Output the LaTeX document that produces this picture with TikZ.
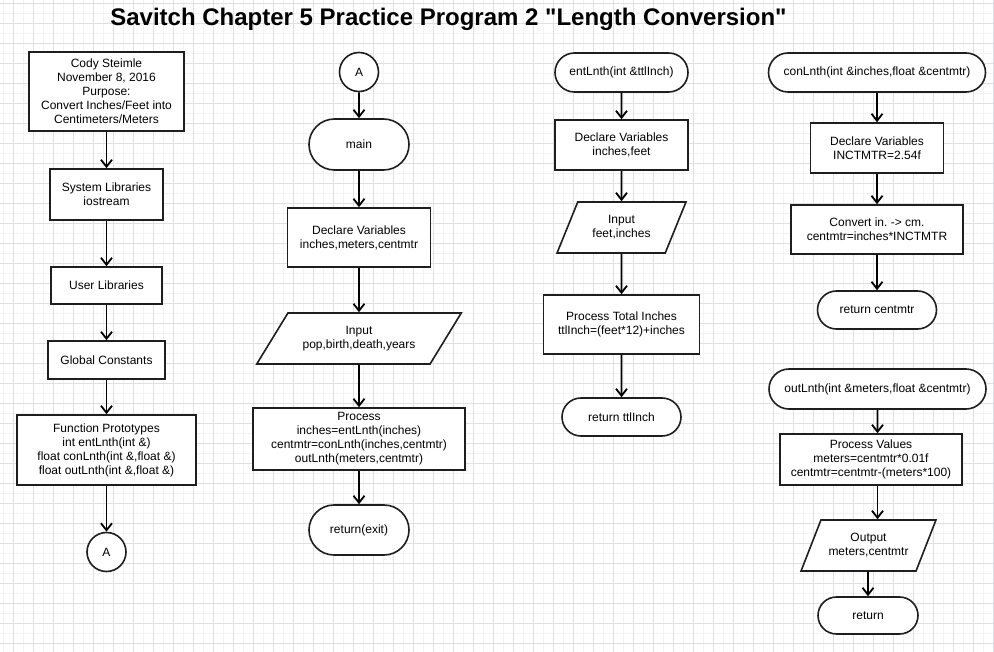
\documentclass[tikz,border=0pt]{standalone}
\usepackage{fontspec}
\setmainfont{Liberation Sans}
\newfontfamily\titlefont{Liberation Sans}
\usepackage{tikz}
\usetikzlibrary{arrows.meta,shapes.geometric,shapes.misc}
\definecolor{gridmaj}{RGB}{222,222,238}
\definecolor{gridmin}{RGB}{242,242,249}
\definecolor{linecol}{RGB}{30,30,30}
\tikzstyle{fc_box} = [rectangle, draw=linecol, fill=white, line width=1.6pt, align=center, inner sep=0pt]
\tikzstyle{fc_term} = [rounded rectangle, draw=linecol, fill=white, line width=1.6pt, align=center, inner sep=0pt]
\tikzstyle{fc_io} = [trapezium, trapezium stretches=true, draw=linecol, fill=white, line width=1.6pt, align=center, inner sep=0pt]
\tikzstyle{fc_con} = [circle, draw=linecol, fill=white, line width=1.6pt, inner sep=0pt, minimum size=39pt]
\tikzstyle{fc_arr} = [-{Straight Barb[length=7pt,width=11pt]}, draw=black, line width=1.8pt]

\begin{document}
\frenchspacing
\begin{tikzpicture}[x=1pt,y=-1pt,font=\fontsize{12}{14}\selectfont]
\useasboundingbox (0,0) rectangle (994,652);
\fill[white] (0,0) rectangle (994,652);
% grid paper
\foreach \x in {3,23,...,983} \draw[gridmin,line width=0.6pt] (\x,0) -- (\x,652);
\foreach \y in {13,33,...,653} \draw[gridmin,line width=0.6pt] (0,\y) -- (994,\y);
\foreach \x in {13,33,...,993} \draw[gridmaj,line width=0.6pt] (\x,0) -- (\x,652);
\foreach \y in {3,23,...,643} \draw[gridmaj,line width=0.6pt] (0,\y) -- (994,\y);

\node [font=\fontsize{24}{28}\titlefont\bfseries, anchor=base] (title) at (448.5,26) {Savitch Chapter 5 Practice Program 2 "Length Conversion"};

% column 1
\node [fc_box, minimum width=155pt, minimum height=79pt] (info) at (106.5,91.5) {Cody Steimle\\November 8, 2016\\Purpose:\\Convert Inches/Feet into\\Centimeters/Meters};
\node [fc_box, minimum width=113pt, minimum height=51pt] (syslib) at (106.5,194.5) {System Libraries\\iostream};
\node [fc_box, minimum width=111pt, minimum height=37pt] (usrlib) at (106.5,285.5) {User Libraries};
\node [fc_box, minimum width=117pt, minimum height=38pt] (glbcon) at (106.5,360) {Global Constants};
\node [fc_box, minimum width=179pt, minimum height=70pt] (proto) at (106.5,450) {Function Prototypes\\int entLnth(int \&)\\float conLnth(int \&,float \&)\\float outLnth(int \&,float \&)};
\node [fc_con] (conA1) at (106.5,552) {A};

% column 2
\node [fc_con] (conA2) at (359,72) {A};
\node [fc_term, minimum width=100pt, minimum height=51pt] (main) at (359,144.5) {main};
\node [fc_box, minimum width=143pt, minimum height=59pt] (mainvar) at (359,237.5) {Declare Variables\\inches,meters,centmtr};
\node [fc_io, trapezium left angle=45, trapezium right angle=135, minimum width=205pt, minimum height=51pt] (mainin) at (359,338.5) {Input\\pop,birth,death,years};
\node [fc_box, minimum width=212pt, minimum height=62pt] (mainproc) at (359,439) {Process\\inches=entLnth(inches)\\centmtr=conLnth(inches,centmtr)\\outLnth(meters,centmtr)};
\node [fc_term, minimum width=100pt, minimum height=50pt] (mainret) at (359,530) {return(exit)};

% column 3
\node [fc_term, minimum width=133pt, minimum height=39pt] (ent) at (621.5,72.5) {entLnth(int \&ttlInch)};
\node [fc_box, minimum width=133pt, minimum height=50pt] (entvar) at (621.5,145) {Declare Variables\\inches,feet};
\node [fc_io, trapezium left angle=60, trapezium right angle=120, minimum width=130pt, minimum height=51pt] (entin) at (621.5,227.5) {Input\\feet,inches};
\node [fc_box, minimum width=156pt, minimum height=59pt] (entproc) at (621.5,324.5) {Process Total Inches\\ttlInch=(feet*12)+inches};
\node [fc_term, minimum width=119pt, minimum height=38pt] (entret) at (621.5,417) {return ttlInch};

% column 4
\node [fc_term, minimum width=217pt, minimum height=39pt] (con) at (877,72.5) {conLnth(int \&inches,float \&centmtr)};
\node [fc_box, minimum width=133pt, minimum height=50pt] (convar) at (877,148) {Declare Variables\\INCTMTR=2.54f};
\node [fc_box, minimum width=172pt, minimum height=49pt] (conproc) at (877,229.5) {Convert in. -> cm.\\centmtr=inches*INCTMTR};
\node [fc_term, minimum width=119pt, minimum height=38pt] (conret) at (877,310) {return centmtr};

\node [fc_term, minimum width=217pt, minimum height=40pt] (out) at (877.5,389) {outLnth(int \&meters,float \&centmtr)};
\node [fc_box, minimum width=182pt, minimum height=51pt] (outproc) at (871,459.5) {Process Values\\meters=centmtr*0.01f\\centmtr=centmtr-(meters*100)};
\node [fc_io, trapezium left angle=55, trapezium right angle=125, minimum width=135pt, minimum height=51pt] (outout) at (868.5,545.5) {Output\\meters,centmtr};
\node [fc_term, minimum width=100pt, minimum height=37pt] (outret) at (868,615.5) {return};

% connectors
\draw [fc_arr] (info) -- (syslib);
\draw [fc_arr] (syslib) -- (usrlib);
\draw [fc_arr] (usrlib) -- (glbcon);
\draw [fc_arr] (glbcon) -- (proto);
\draw [fc_arr] (proto) -- (conA1);

\draw [fc_arr] (conA2) -- (main);
\draw [fc_arr] (main) -- (mainvar);
\draw [fc_arr] (mainvar) -- (mainin);
\draw [fc_arr] (mainin) -- (mainproc);
\draw [fc_arr] (mainproc) -- (mainret);

\draw [fc_arr] (ent) -- (entvar);
\draw [fc_arr] (entvar) -- (entin);
\draw [fc_arr] (entin) -- (entproc);
\draw [fc_arr] (entproc) -- (entret);

\draw [fc_arr] (con) -- (convar);
\draw [fc_arr] (convar) -- (conproc);
\draw [fc_arr] (conproc) -- (conret);

\draw [fc_arr] (out) -- (out |- outproc.north);
\draw [fc_arr] (outproc.south -| out) -- (out |- outout.north);
\draw [fc_arr] (outout.south -| outret) -- (outret);
\end{tikzpicture}
\end{document}
